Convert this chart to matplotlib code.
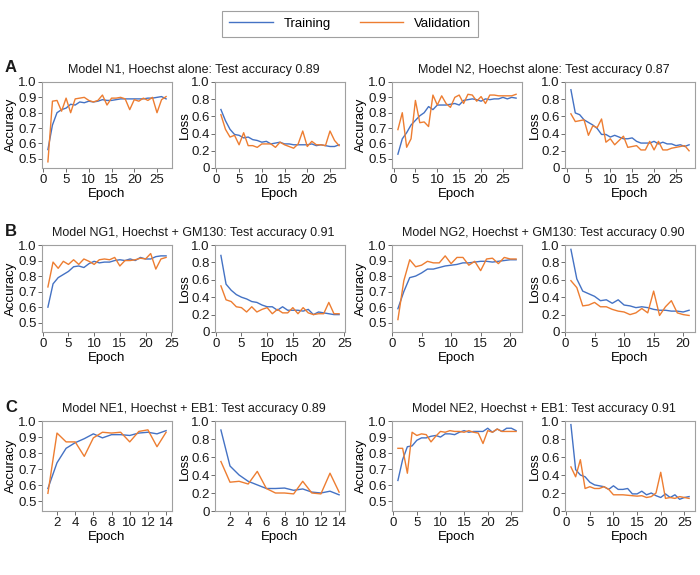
import matplotlib
matplotlib.use("Agg")
import matplotlib.pyplot as plt
from matplotlib.lines import Line2D
from matplotlib.ticker import FuncFormatter, MultipleLocator

plt.rcParams['font.family'] = ['Liberation Sans', 'DejaVu Sans']

BLUE = '#4472C4'
ORANGE = '#ED7D31'

# ---- data ----
n1_acc_train = [0.56, 0.72, 0.80, 0.82, 0.83, 0.855, 0.85, 0.87, 0.865, 0.875, 0.87, 0.875, 0.885, 0.88,
                0.88, 0.885, 0.89, 0.89, 0.89, 0.89, 0.89, 0.89, 0.895, 0.895, 0.90, 0.905, 0.89]
n1_acc_val = [0.48, 0.875, 0.88, 0.81, 0.895, 0.80, 0.89, 0.895, 0.90, 0.88, 0.87, 0.88, 0.915, 0.85,
              0.895, 0.895, 0.90, 0.89, 0.82, 0.885, 0.875, 0.895, 0.88, 0.90, 0.80, 0.885, 0.905]
n1_loss_train = [0.68, 0.55, 0.45, 0.39, 0.38, 0.35, 0.36, 0.33, 0.32, 0.30, 0.31, 0.28, 0.29, 0.30,
                 0.28, 0.28, 0.27, 0.27, 0.27, 0.27, 0.28, 0.26, 0.27, 0.26, 0.25, 0.25, 0.27]
n1_loss_val = [0.62, 0.45, 0.36, 0.38, 0.27, 0.41, 0.26, 0.26, 0.24, 0.28, 0.28, 0.28, 0.24, 0.30,
               0.27, 0.25, 0.23, 0.28, 0.43, 0.25, 0.31, 0.27, 0.27, 0.26, 0.43, 0.32, 0.26]

n2_acc_train = [0.53, 0.63, 0.67, 0.72, 0.75, 0.78, 0.80, 0.84, 0.82, 0.85, 0.85, 0.85, 0.855, 0.86,
                0.85, 0.88, 0.885, 0.89, 0.885, 0.875, 0.89, 0.885, 0.89, 0.89, 0.90, 0.89, 0.90, 0.895]
n2_acc_val = [0.69, 0.80, 0.575, 0.63, 0.88, 0.735, 0.74, 0.71, 0.915, 0.85, 0.91, 0.86, 0.835, 0.90,
              0.915, 0.86, 0.92, 0.915, 0.875, 0.905, 0.86, 0.915, 0.915, 0.91, 0.91, 0.91, 0.91, 0.92]
n2_loss_train = [0.91, 0.64, 0.62, 0.56, 0.53, 0.50, 0.46, 0.39, 0.39, 0.36, 0.38, 0.36, 0.34, 0.34,
                 0.35, 0.31, 0.29, 0.29, 0.29, 0.31, 0.28, 0.30, 0.28, 0.28, 0.26, 0.27, 0.25, 0.27]
n2_loss_val = [0.63, 0.54, 0.55, 0.56, 0.38, 0.49, 0.47, 0.57, 0.30, 0.34, 0.27, 0.32, 0.37, 0.24,
               0.25, 0.26, 0.21, 0.21, 0.31, 0.21, 0.31, 0.21, 0.21, 0.23, 0.24, 0.25, 0.26, 0.20]

ng1_acc_train = [0.60, 0.75, 0.79, 0.81, 0.83, 0.86, 0.865, 0.855, 0.88, 0.895, 0.885, 0.89, 0.89,
                 0.90, 0.905, 0.90, 0.91, 0.90, 0.92, 0.91, 0.91, 0.925, 0.93, 0.93]
ng1_acc_val = [0.73, 0.89, 0.85, 0.895, 0.875, 0.905, 0.875, 0.91, 0.895, 0.875, 0.905, 0.91, 0.905,
               0.92, 0.865, 0.90, 0.90, 0.905, 0.915, 0.91, 0.945, 0.845, 0.91, 0.92]
ng1_loss_train = [0.88, 0.55, 0.48, 0.43, 0.40, 0.38, 0.35, 0.34, 0.31, 0.29, 0.29, 0.25, 0.29, 0.25,
                  0.25, 0.25, 0.24, 0.26, 0.20, 0.23, 0.22, 0.21, 0.20, 0.20]
ng1_loss_val = [0.53, 0.37, 0.35, 0.29, 0.28, 0.23, 0.29, 0.23, 0.26, 0.28, 0.21, 0.26, 0.22, 0.22,
                0.28, 0.21, 0.28, 0.22, 0.20, 0.21, 0.21, 0.34, 0.21, 0.21]

ng2_acc_train = [0.59, 0.70, 0.79, 0.80, 0.82, 0.845, 0.845, 0.855, 0.865, 0.87, 0.875, 0.885, 0.885,
                 0.89, 0.895, 0.895, 0.89, 0.895, 0.90, 0.905, 0.905]
ng2_acc_val = [0.52, 0.77, 0.905, 0.86, 0.87, 0.895, 0.885, 0.885, 0.93, 0.88, 0.92, 0.92, 0.87,
               0.895, 0.835, 0.91, 0.915, 0.88, 0.92, 0.91, 0.91]
ng2_loss_train = [0.95, 0.61, 0.47, 0.44, 0.41, 0.36, 0.37, 0.33, 0.37, 0.31, 0.30, 0.28, 0.29, 0.28,
                  0.26, 0.25, 0.25, 0.24, 0.24, 0.23, 0.25]
ng2_loss_val = [0.59, 0.51, 0.30, 0.31, 0.34, 0.29, 0.29, 0.26, 0.24, 0.23, 0.20, 0.22, 0.27, 0.22,
                0.47, 0.19, 0.29, 0.36, 0.22, 0.20, 0.19]

ne1_acc_train = [0.58, 0.74, 0.83, 0.865, 0.89, 0.92, 0.895, 0.915, 0.915, 0.91, 0.925, 0.93, 0.92, 0.94]
ne1_acc_val = [0.55, 0.925, 0.87, 0.87, 0.78, 0.895, 0.93, 0.925, 0.93, 0.87, 0.935, 0.945, 0.84, 0.93]
ne1_loss_train = [0.90, 0.50, 0.40, 0.33, 0.29, 0.25, 0.25, 0.255, 0.23, 0.245, 0.21, 0.20, 0.22, 0.18]
ne1_loss_val = [0.55, 0.32, 0.33, 0.30, 0.44, 0.25, 0.20, 0.20, 0.19, 0.33, 0.20, 0.19, 0.42, 0.21]

ne2_acc_train = [0.63, 0.76, 0.84, 0.845, 0.88, 0.895, 0.895, 0.905, 0.91, 0.90, 0.92, 0.92, 0.915,
                 0.93, 0.94, 0.93, 0.935, 0.935, 0.935, 0.955, 0.93, 0.95, 0.935, 0.955, 0.955, 0.94]
ne2_acc_val = [0.83, 0.83, 0.675, 0.93, 0.91, 0.92, 0.915, 0.87, 0.905, 0.935, 0.93, 0.94, 0.935,
               0.935, 0.93, 0.94, 0.93, 0.925, 0.86, 0.94, 0.93, 0.95, 0.935, 0.935, 0.935, 0.935]
ne2_loss_train = [0.96, 0.46, 0.40, 0.38, 0.32, 0.29, 0.28, 0.27, 0.24, 0.28, 0.24, 0.24, 0.25, 0.19,
                  0.19, 0.22, 0.18, 0.20, 0.17, 0.15, 0.19, 0.15, 0.18, 0.13, 0.15, 0.16]
ne2_loss_val = [0.49, 0.38, 0.57, 0.25, 0.27, 0.25, 0.25, 0.27, 0.24, 0.18, 0.18, 0.18, 0.175, 0.17,
                0.165, 0.17, 0.15, 0.16, 0.20, 0.43, 0.14, 0.15, 0.14, 0.16, 0.15, 0.14]

models = [
    ("Model N1, Hoechst alone: Test accuracy 0.89", n1_acc_train, n1_acc_val, n1_loss_train, n1_loss_val),
    ("Model N2, Hoechst alone: Test accuracy 0.87", n2_acc_train, n2_acc_val, n2_loss_train, n2_loss_val),
    ("Model NG1, Hoechst + GM130: Test accuracy 0.91", ng1_acc_train, ng1_acc_val, ng1_loss_train, ng1_loss_val),
    ("Model NG2, Hoechst + GM130: Test accuracy 0.90", ng2_acc_train, ng2_acc_val, ng2_loss_train, ng2_loss_val),
    ("Model NE1, Hoechst + EB1: Test accuracy 0.89", ne1_acc_train, ne1_acc_val, ne1_loss_train, ne1_loss_val),
    ("Model NE2, Hoechst + EB1: Test accuracy 0.91", ne2_acc_train, ne2_acc_val, ne2_loss_train, ne2_loss_val),
]
epoch_steps = [5, 5, 5, 5, 2, 5]
row_letters = ["A", "B", "C"]

# ---- layout in pixels ----
W, H = 700, 575
fig = plt.figure(figsize=(W / 100, H / 100), dpi=100)

col_left = [42, 215, 392, 565]
ax_w = 130
row_top = [82, 245, 421]
row_h = [86, 87, 90]
FS = 9.5
TFS = 9


def px_axes(left, top, h):
    return fig.add_axes([left / W, 1 - (top + h) / H, ax_w / W, h / H])


def style(ax, step):
    for s in ax.spines.values():
        s.set_color('#a0a0a0')
        s.set_linewidth(0.8)
    ax.xaxis.set_major_locator(MultipleLocator(step))
    ax.tick_params(labelsize=FS, length=3, width=0.6, color='#555555', labelcolor='#1a1a1a', pad=1)
    ax.set_xlabel("Epoch", fontsize=FS, labelpad=1.5)


zero_fmt = FuncFormatter(lambda v, p: "0" if abs(v) < 1e-9 else f"{v:.1f}")

for i, (title, acc_t, acc_v, loss_t, loss_v) in enumerate(models):
    r, c = divmod(i, 2)
    epochs = list(range(1, len(acc_t) + 1))

    ax1 = px_axes(col_left[2 * c], row_top[r], row_h[r])
    ax1.plot(epochs, acc_t, color=BLUE, lw=1)
    ax1.plot(epochs, acc_v, color=ORANGE, lw=1)
    ax1.set_ylim(0.44, 1.0)
    ax1.set_yticks([0.5, 0.6, 0.7, 0.8, 0.9, 1.0])
    ax1.set_ylabel("Accuracy", fontsize=FS, labelpad=1)
    style(ax1, epoch_steps[i])

    ax2 = px_axes(col_left[2 * c + 1], row_top[r], row_h[r])
    ax2.plot(epochs, loss_t, color=BLUE, lw=1)
    ax2.plot(epochs, loss_v, color=ORANGE, lw=1)
    ax2.set_ylim(0, 1.0)
    ax2.set_yticks([0, 0.2, 0.4, 0.6, 0.8, 1.0])
    ax2.yaxis.set_major_formatter(zero_fmt)
    ax2.set_ylabel("Loss", fontsize=FS, labelpad=0)
    style(ax2, epoch_steps[i])

    cx = (col_left[2 * c] + col_left[2 * c + 1] + ax_w) / 2
    fig.text(cx / W, 1 - (row_top[r] - 12) / H, title, ha='center', va='center', fontsize=TFS, color='#1a1a1a')

for r, letter in enumerate(row_letters):
    fig.text(5 / W, 1 - (row_top[r] - 14) / H, letter, ha='left', va='center',
             fontsize=12, fontweight='bold', color='#1a1a1a')

handles = [Line2D([], [], color=BLUE, lw=1), Line2D([], [], color=ORANGE, lw=1)]
leg = fig.legend(handles, ["Training", "Validation"], loc='upper center',
                 bbox_to_anchor=(0.5, 1 - 4 / H), ncol=2, fontsize=FS,
                 frameon=True, fancybox=False, handlelength=3.3, columnspacing=2.2,
                 borderpad=0.55, handletextpad=0.8)
leg.get_frame().set_edgecolor('#888888')
leg.get_frame().set_linewidth(0.8)

fig.savefig("out.png", dpi=100)
